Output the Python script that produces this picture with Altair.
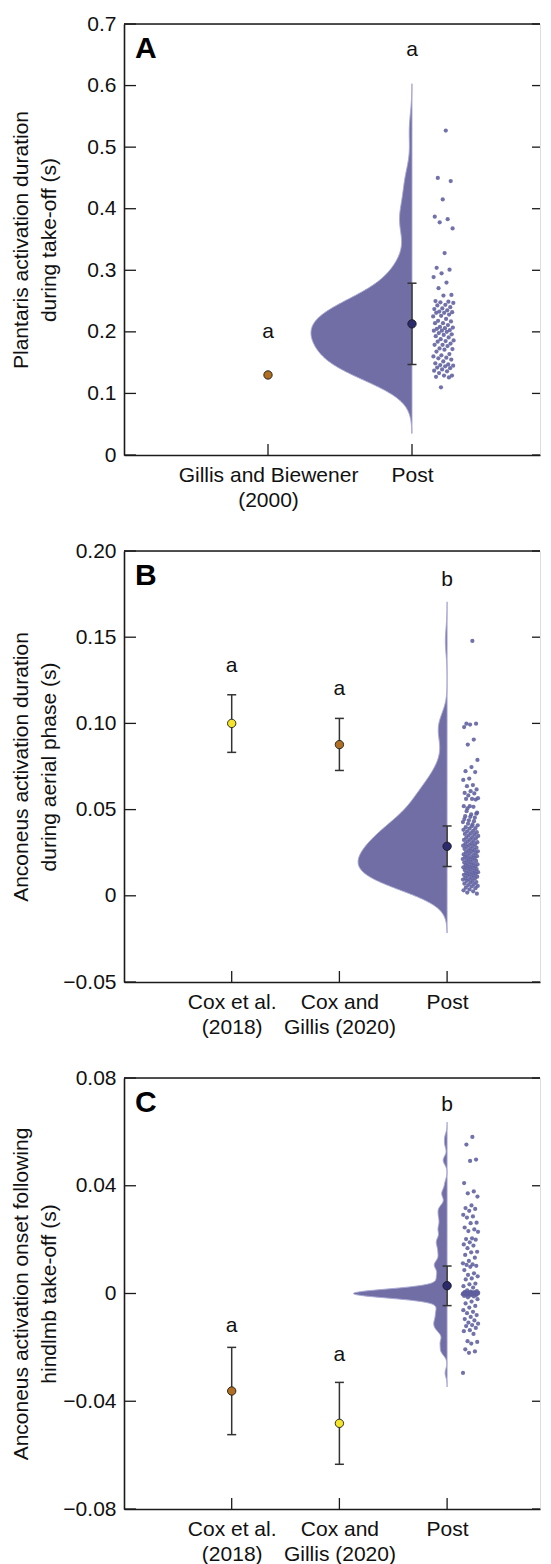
import json
import altair as alt
import pandas as pd

FONT = "Liberation Sans"
TXT = "#111111"
AXC = "#1a1a1a"
VIOLIN = "#706ea5"
VIOLIN_EDGE = "#a9a8d2"
DOT = "#5f5e9f"
NAVY = "#2b2b6e"
BROWN = "#b06f22"
YELLOW = "#f5e52a"

W, H = 416, 431

# ---------------- Panel A ----------------
a_categories = [["Gillis and Biewener", "(2000)"], ["Post"]]
a_means = [0.130, 0.213]
a_lower = [None, 0.147]
a_upper = [None, 0.279]
a_letters = ["a", "a"]
a_letter_y = [0.190, 0.648]
a_ticks = [0, 0.1, 0.2, 0.3, 0.4, 0.5, 0.6, 0.7]
a_tick_labels = ["0", "0.1", "0.2", "0.3", "0.4", "0.5", "0.6", "0.7"]
a_title = ["Plantaris activation duration", "during take-off (s)"]
a_post = [0.527, 0.450, 0.445, 0.415, 0.387, 0.383, 0.378, 0.368, 0.328, 0.304,
          0.301, 0.295, 0.289, 0.280, 0.271, 0.260, 0.259, 0.250, 0.249, 0.248,
          0.247, 0.244, 0.243, 0.240, 0.238, 0.237, 0.235, 0.233, 0.232, 0.231,
          0.231, 0.228, 0.226, 0.225, 0.221, 0.218, 0.217, 0.214, 0.214, 0.211,
          0.208, 0.207, 0.206, 0.205, 0.203, 0.202, 0.202, 0.200, 0.198, 0.196,
          0.195, 0.193, 0.191, 0.188, 0.186, 0.185, 0.184, 0.181, 0.179, 0.179,
          0.177, 0.173, 0.172, 0.171, 0.168, 0.164, 0.162, 0.160, 0.158, 0.157,
          0.155, 0.152, 0.149, 0.147, 0.146, 0.145, 0.144, 0.142, 0.141, 0.139,
          0.137, 0.136, 0.133, 0.129, 0.129, 0.127, 0.126, 0.110]

# ---------------- Panel B ----------------
b_categories = [["Cox et al.", "(2018)"], ["Cox and", "Gillis (2020)"], ["Post"]]
b_means = [0.100, 0.0877, 0.0287]
b_lower = [0.0832, 0.0727, 0.0170]
b_upper = [0.1166, 0.1029, 0.0405]
b_letters = ["a", "a", "b"]
b_letter_y = [0.1297, 0.1162, 0.1798]
b_ticks = [-0.05, 0, 0.05, 0.10, 0.15, 0.20]
b_tick_labels = ["\u22120.05", "0", "0.05", "0.10", "0.15", "0.20"]
b_title = ["Anconeus activation duration", "during aerial phase (s)"]
b_post = [0.1478, 0.0998, 0.0998, 0.0993, 0.0979, 0.0906, 0.0877, 0.0788, 0.0747, 0.0723,
          0.0718, 0.0680, 0.0672, 0.0642, 0.0636, 0.0617, 0.0607, 0.0597, 0.0594, 0.0582,
          0.0566, 0.0562, 0.0562, 0.0558, 0.0520, 0.0520, 0.0516, 0.0507, 0.0482, 0.0472,
          0.0462, 0.0453, 0.0438, 0.0428, 0.0414,
          0.0491, 0.0476, 0.0458, 0.0445, 0.0433, 0.0418, 0.0409, 0.0403,
          0.0398, 0.0392, 0.0389, 0.0383, 0.0377, 0.0374, 0.0369, 0.0363, 0.0359, 0.0356,
          0.0350, 0.0347, 0.0340, 0.0337, 0.0334, 0.0327, 0.0324, 0.0318, 0.0316, 0.0311,
          0.0305, 0.0302, 0.0299, 0.0294, 0.0291, 0.0286, 0.0284, 0.0279, 0.0274, 0.0272,
          0.0266, 0.0263, 0.0258, 0.0257, 0.0252, 0.0247, 0.0245, 0.0240, 0.0236, 0.0233,
          0.0230, 0.0225, 0.0224, 0.0219, 0.0214, 0.0213, 0.0208, 0.0205, 0.0202, 0.0197,
          0.0193, 0.0188, 0.0186, 0.0182, 0.0179, 0.0176, 0.0171, 0.0169, 0.0165, 0.0162,
          0.0160, 0.0155, 0.0153, 0.0149, 0.0145, 0.0142, 0.0137, 0.0135, 0.0132, 0.0129,
          0.0124, 0.0122, 0.0119, 0.0116, 0.0111, 0.0107, 0.0104, 0.0101, 0.0096, 0.0094,
          0.0088, 0.0086, 0.0080, 0.0077, 0.0070, 0.0068, 0.0062, 0.0057, 0.0054, 0.0047,
          0.0044, 0.0037, 0.0032, 0.0026, 0.0019, 0.0012]

# ---------------- Panel C ----------------
c_categories = [["Cox et al.", "(2018)"], ["Cox and", "Gillis (2020)"], ["Post"]]
c_means = [-0.0362, -0.0482, 0.0029]
c_lower = [-0.0524, -0.0634, -0.0045]
c_upper = [-0.0200, -0.0330, 0.0102]
c_letters = ["a", "a", "b"]
c_letter_y = [-0.0143, -0.0252, 0.0677]
c_ticks = [-0.08, -0.04, 0, 0.04, 0.08]
c_tick_labels = ["\u22120.08", "\u22120.04", "0", "0.04", "0.08"]
c_title = ["Anconeus activation onset following", "hindlmb take-off (s)"]
c_post = [0.0581, 0.0553, 0.0497, 0.0492, 0.0410, 0.0379, 0.0372, 0.0360, 0.0327, 0.0317,
          0.0314, 0.0307, 0.0292, 0.0286, 0.0282, 0.0263, 0.0261, 0.0245, 0.0238, 0.0232,
          0.0229, 0.0205, 0.0202, 0.0200, 0.0190, 0.0182, 0.0178, 0.0168, 0.0155, 0.0153,
          0.0143, 0.0133, 0.0121, 0.0112, 0.0108, 0.0106, 0.0103, 0.0099, 0.0087, 0.0075,
          0.0069, 0.0064, 0.0056, 0.0052, 0.0037, 0.0034, 0.0027, 0.0022,
          0.0012, 0.0009, 0.0007, 0.0006, 0.0005, 0.0004, 0.0003, 0.0003, 0.0002, 0.0002,
          0.0001, 0.0001, 0.0001, 0.0, 0.0, 0.0, 0.0, 0.0, 0.0, 0.0,
          0.0, 0.0, 0.0, 0.0, 0.0, 0.0, 0.0, 0.0, 0.0, 0.0,
          0.0, 0.0, 0.0, 0.0, -0.0001, -0.0001, -0.0001, -0.0002, -0.0002, -0.0003,
          -0.0003, -0.0004, -0.0005, -0.0006, -0.0007, -0.0009, -0.0011, -0.0014,
          -0.0021, -0.0030, -0.0037, -0.0046, -0.0052, -0.0062, -0.0068, -0.0073, -0.0080,
          -0.0087, -0.0095, -0.0100, -0.0108, -0.0112, -0.0117, -0.0121, -0.0128, -0.0136, -0.0140,
          -0.0150, -0.0177, -0.0180, -0.0186, -0.0207, -0.0215, -0.0220, -0.0295]


def panel(letter, cats, means, lower, upper, colors, letters, letter_y, post,
          ticks, tick_labels, title, unit_px, bw, extent, maxw_px):
    n = len(cats)
    xmax = W / unit_px
    xs = alt.Scale(domain=[0, xmax], nice=False, zero=False)
    ys = alt.Scale(domain=[ticks[0], ticks[-1]], nice=False, zero=False)
    ylab = (f"{json.dumps(tick_labels, ensure_ascii=False)}"
            f"[indexof({json.dumps(ticks)}, datum.value)]")
    yaxis = alt.Axis(values=ticks, labelExpr=ylab, ticks=False, tickSize=0,
                     domain=True, domainColor=AXC, domainWidth=1.6, grid=False,
                     labelFont=FONT, labelFontSize=21, labelColor=TXT, labelPadding=8,
                     labelFlush=False, labelOverlap=False,
                     title=title, titleFont=FONT, titleFontSize=21,
                     titleFontWeight="normal", titleColor=TXT, titleX=-103, titleY=H / 2,
                     titleAngle=270, titleAlign="center", titleBaseline="middle",
                     titleLineHeight=28)
    xlab = f"{json.dumps(cats, ensure_ascii=False)}[round(datum.value) - 1]"
    xaxis = alt.Axis(values=list(range(1, n + 1)), labelExpr=xlab, ticks=False,
                     tickSize=0, domain=True, domainColor=AXC, domainWidth=1.6,
                     grid=False, labelFont=FONT, labelFontSize=21, labelColor=TXT,
                     labelPadding=9, labelLineHeight=25, labelFlush=False,
                     labelOverlap=False, labelAngle=0, labelAlign="center",
                     labelBaseline="top", title=None)

    def bx(f):
        return alt.X(f, scale=xs, axis=xaxis)

    def by(f):
        return alt.Y(f, scale=ys, axis=yaxis)

    summ = pd.DataFrame({
        "pos": list(range(1, n + 1)), "mean": means, "lower": lower, "upper": upper,
        "grp": [f"{letter}{i}" for i in range(n)], "letter": letters, "ly": letter_y,
    })
    cscale = alt.Scale(domain=list(summ["grp"]), range=colors)
    postdf = pd.DataFrame({"v": post})

    violin = (alt.Chart(postdf)
              .transform_density("v", as_=["v", "d"], bandwidth=bw, extent=extent, steps=500)
              .transform_joinaggregate(dmax="max(d)")
              .transform_calculate(xl=f"{n} - datum.d / datum.dmax * {maxw_px / unit_px}",
                                   xr=f"{n}")
              .mark_area(orient="horizontal", fill=VIOLIN, stroke=VIOLIN_EDGE,
                         strokeWidth=1, opacity=1, interpolate="monotone")
              .encode(y=by("v:Q"), x=bx("xl:Q"), x2="xr:Q"))

    dots = (alt.Chart(postdf)
            .transform_window(i="row_number()")
            .transform_calculate(xj=f"{n} + 0.145 + 0.145 * ((datum.i * 0.6180339887) % 1)")
            .mark_circle(size=18, color=DOT, opacity=0.88)
            .encode(x=bx("xj:Q"), y=by("v:Q")))

    tickdf = pd.DataFrame({"t": ticks})
    lt = alt.Chart(tickdf).mark_rule(color=AXC, strokeWidth=1.3).encode(
        y=by("t:Q"), x=alt.value(0), x2=alt.value(12))
    rt = alt.Chart(tickdf).mark_rule(color=AXC, strokeWidth=1.3).encode(
        y=by("t:Q"), x=alt.value(W - 8), x2=alt.value(W))
    posdf = pd.DataFrame({"p": list(range(1, n + 1))})
    bt = alt.Chart(posdf).mark_rule(color=AXC, strokeWidth=1.3).encode(
        x=bx("p:Q"), y=alt.value(H - 11), y2=alt.value(H))
    top = alt.Chart(pd.DataFrame({"k": [0]})).mark_rule(color=AXC, strokeWidth=1.6).encode(
        x=alt.value(0), x2=alt.value(W), y=alt.value(0))

    err = alt.Chart(summ).transform_filter("isValid(datum.lower)")
    rule = err.mark_rule(color="#333333", strokeWidth=1.5).encode(
        x=bx("pos:Q"), y=by("lower:Q"), y2="upper:Q")
    cap_lo = err.mark_tick(orient="horizontal", size=9, thickness=1.5, color="#333333",
                           opacity=1).encode(x=bx("pos:Q"), y=by("lower:Q"))
    cap_hi = err.mark_tick(orient="horizontal", size=9, thickness=1.5, color="#333333",
                           opacity=1).encode(x=bx("pos:Q"), y=by("upper:Q"))
    pts = alt.Chart(summ).mark_circle(size=70, stroke="#1a1a1a", strokeWidth=0.9,
                                      opacity=1).encode(
        x=bx("pos:Q"), y=by("mean:Q"),
        color=alt.Color("grp:N", scale=cscale, legend=None))
    lett = alt.Chart(summ).mark_text(font=FONT, fontSize=21, color=TXT,
                                     baseline="alphabetic", align="center").encode(
        x=bx("pos:Q"), y=by("ly:Q"), text="letter:N")
    plab = alt.Chart(pd.DataFrame({"t": [letter]})).mark_text(
        font=FONT, fontSize=30, fontWeight="bold", align="left", baseline="alphabetic",
        color="#000000").encode(text="t:N", x=alt.value(11), y=alt.value(34))

    return alt.layer(violin, dots, lt, rt, bt, top, rule, cap_lo, cap_hi, pts, lett,
                     plab).properties(width=W, height=H)


pA = panel("A", a_categories, a_means, a_lower, a_upper, [BROWN, NAVY], a_letters,
           a_letter_y, a_post, a_ticks, a_tick_labels, a_title, 144.0, 0.028,
           [0.035, 0.603], 101)
pB = panel("B", b_categories, b_means, b_lower, b_upper, [YELLOW, BROWN, NAVY],
           b_letters, b_letter_y, b_post, b_ticks, b_tick_labels, b_title, 107.7,
           0.0077, [-0.0216, 0.1705], 89)
pC = panel("C", c_categories, c_means, c_lower, c_upper, [BROWN, YELLOW, NAVY],
           c_letters, c_letter_y, c_post, c_ticks, c_tick_labels, c_title, 107.7,
           0.0016, [-0.0347, 0.0636], 93.5)

chart = (alt.vconcat(pA, pB, pC, spacing=96, bounds="flush")
         .resolve_scale(x="independent", y="independent", color="independent")
         .properties(padding={"left": 1, "top": 4, "right": 0, "bottom": 0})
         .configure_view(stroke=None)
         .configure(font=FONT))

chart.save("out.html", embed_options={"renderer": "svg", "actions": False})
